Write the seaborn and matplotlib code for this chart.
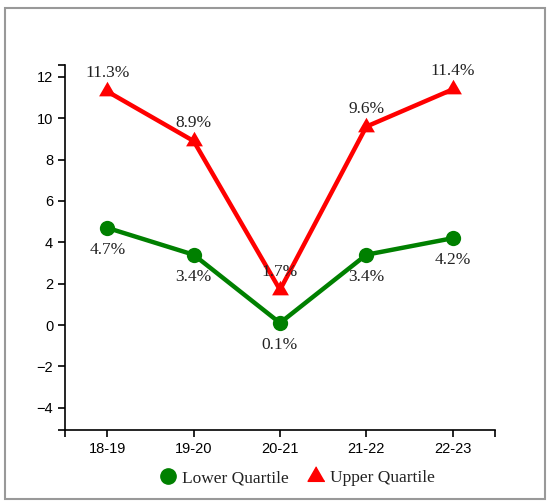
import matplotlib
matplotlib.use("Agg")
import matplotlib.pyplot as plt
from matplotlib.lines import Line2D
from matplotlib.patches import Rectangle
from matplotlib.ticker import FixedLocator
import pandas as pd
import seaborn as sns

years = ["18-19", "19-20", "20-21", "21-22", "22-23"]
lower_quartile = [4.7, 3.4, 0.1, 3.4, 4.2]
upper_quartile = [11.3, 8.9, 1.7, 9.6, 11.4]

sns.set_style("white")
plt.rcParams["font.family"] = ["Liberation Sans", "DejaVu Sans"]

W, H = 547, 501
fig = plt.figure(figsize=(W / 100, H / 100), dpi=100)
ax = fig.add_axes([65 / W, 1 - 430 / H, 430 / W, 365 / H])

# equilateral triangle marker
tri = [(0, 1), (-0.866, -0.5), (0.866, -0.5)]

df = pd.DataFrame({"year": years, "lower": lower_quartile, "upper": upper_quartile})
df["x"] = range(len(years))

sns.lineplot(data=df, x="x", y="upper", ax=ax, color="#ff0000", linewidth=3.2,
             marker=tri, markersize=14, markeredgewidth=0, zorder=3)
sns.lineplot(data=df, x="x", y="lower", ax=ax, color="#008000", linewidth=3.2,
             marker="o", markersize=11, markeredgewidth=0, zorder=3)

for i, v in enumerate(upper_quartile):
    ax.annotate(f"{v}%", (i, v), xytext=(0, 14), textcoords="offset pixels",
                ha="center", va="baseline", fontsize=12.5, color="#222222",
                family="Liberation Serif")
for i, v in enumerate(lower_quartile):
    ax.annotate(f"{v}%", (i, v), xytext=(0, -14), textcoords="offset pixels",
                ha="center", va="top", fontsize=12.5, color="#222222",
                family="Liberation Serif")

ax.set_xlim(-0.49, 4.49)
ax.set_ylim(-5.08, 12.58)
ax.set_xticks(range(len(years)))
ax.set_xticklabels(years)
ax.set_yticks([-4, -2, 0, 2, 4, 6, 8, 10, 12])
ax.set_yticklabels(["\u22124", "\u22122", "0", "2", "4", "6", "8", "10", "12"])
ax.xaxis.set_minor_locator(FixedLocator([-0.49, 4.49]))
ax.yaxis.set_minor_locator(FixedLocator([-5.08, 12.58]))
ax.tick_params(which="both", length=5, width=1.2, color="black", labelsize=10.5,
               labelcolor="black", left=True, bottom=True)
ax.set_xlabel("")
ax.set_ylabel("")

for s in ["top", "right"]:
    ax.spines[s].set_visible(False)
for s in ["left", "bottom"]:
    ax.spines[s].set_color("black")
    ax.spines[s].set_linewidth(1.2)

handles = [
    Line2D([], [], marker="o", color="#008000", linestyle="none", markersize=11),
    Line2D([], [], marker=tri, color="#ff0000", linestyle="none", markersize=14),
]
fig.legend(handles, ["Lower Quartile", "Upper Quartile"], loc="center",
           bbox_to_anchor=(296 / W, 1 - 478 / H), ncol=2, frameon=False,
           prop={"family": "Liberation Serif", "size": 12.5},
           handletextpad=0.2, columnspacing=1.0, handlelength=1.2,
           labelcolor="#222222")

fig.patches.append(Rectangle((5 / W, 1 - 499 / H), 540 / W, 491 / H,
                             transform=fig.transFigure, fill=False,
                             edgecolor="#999999", linewidth=1.5))

fig.savefig("out.png", dpi=100)
